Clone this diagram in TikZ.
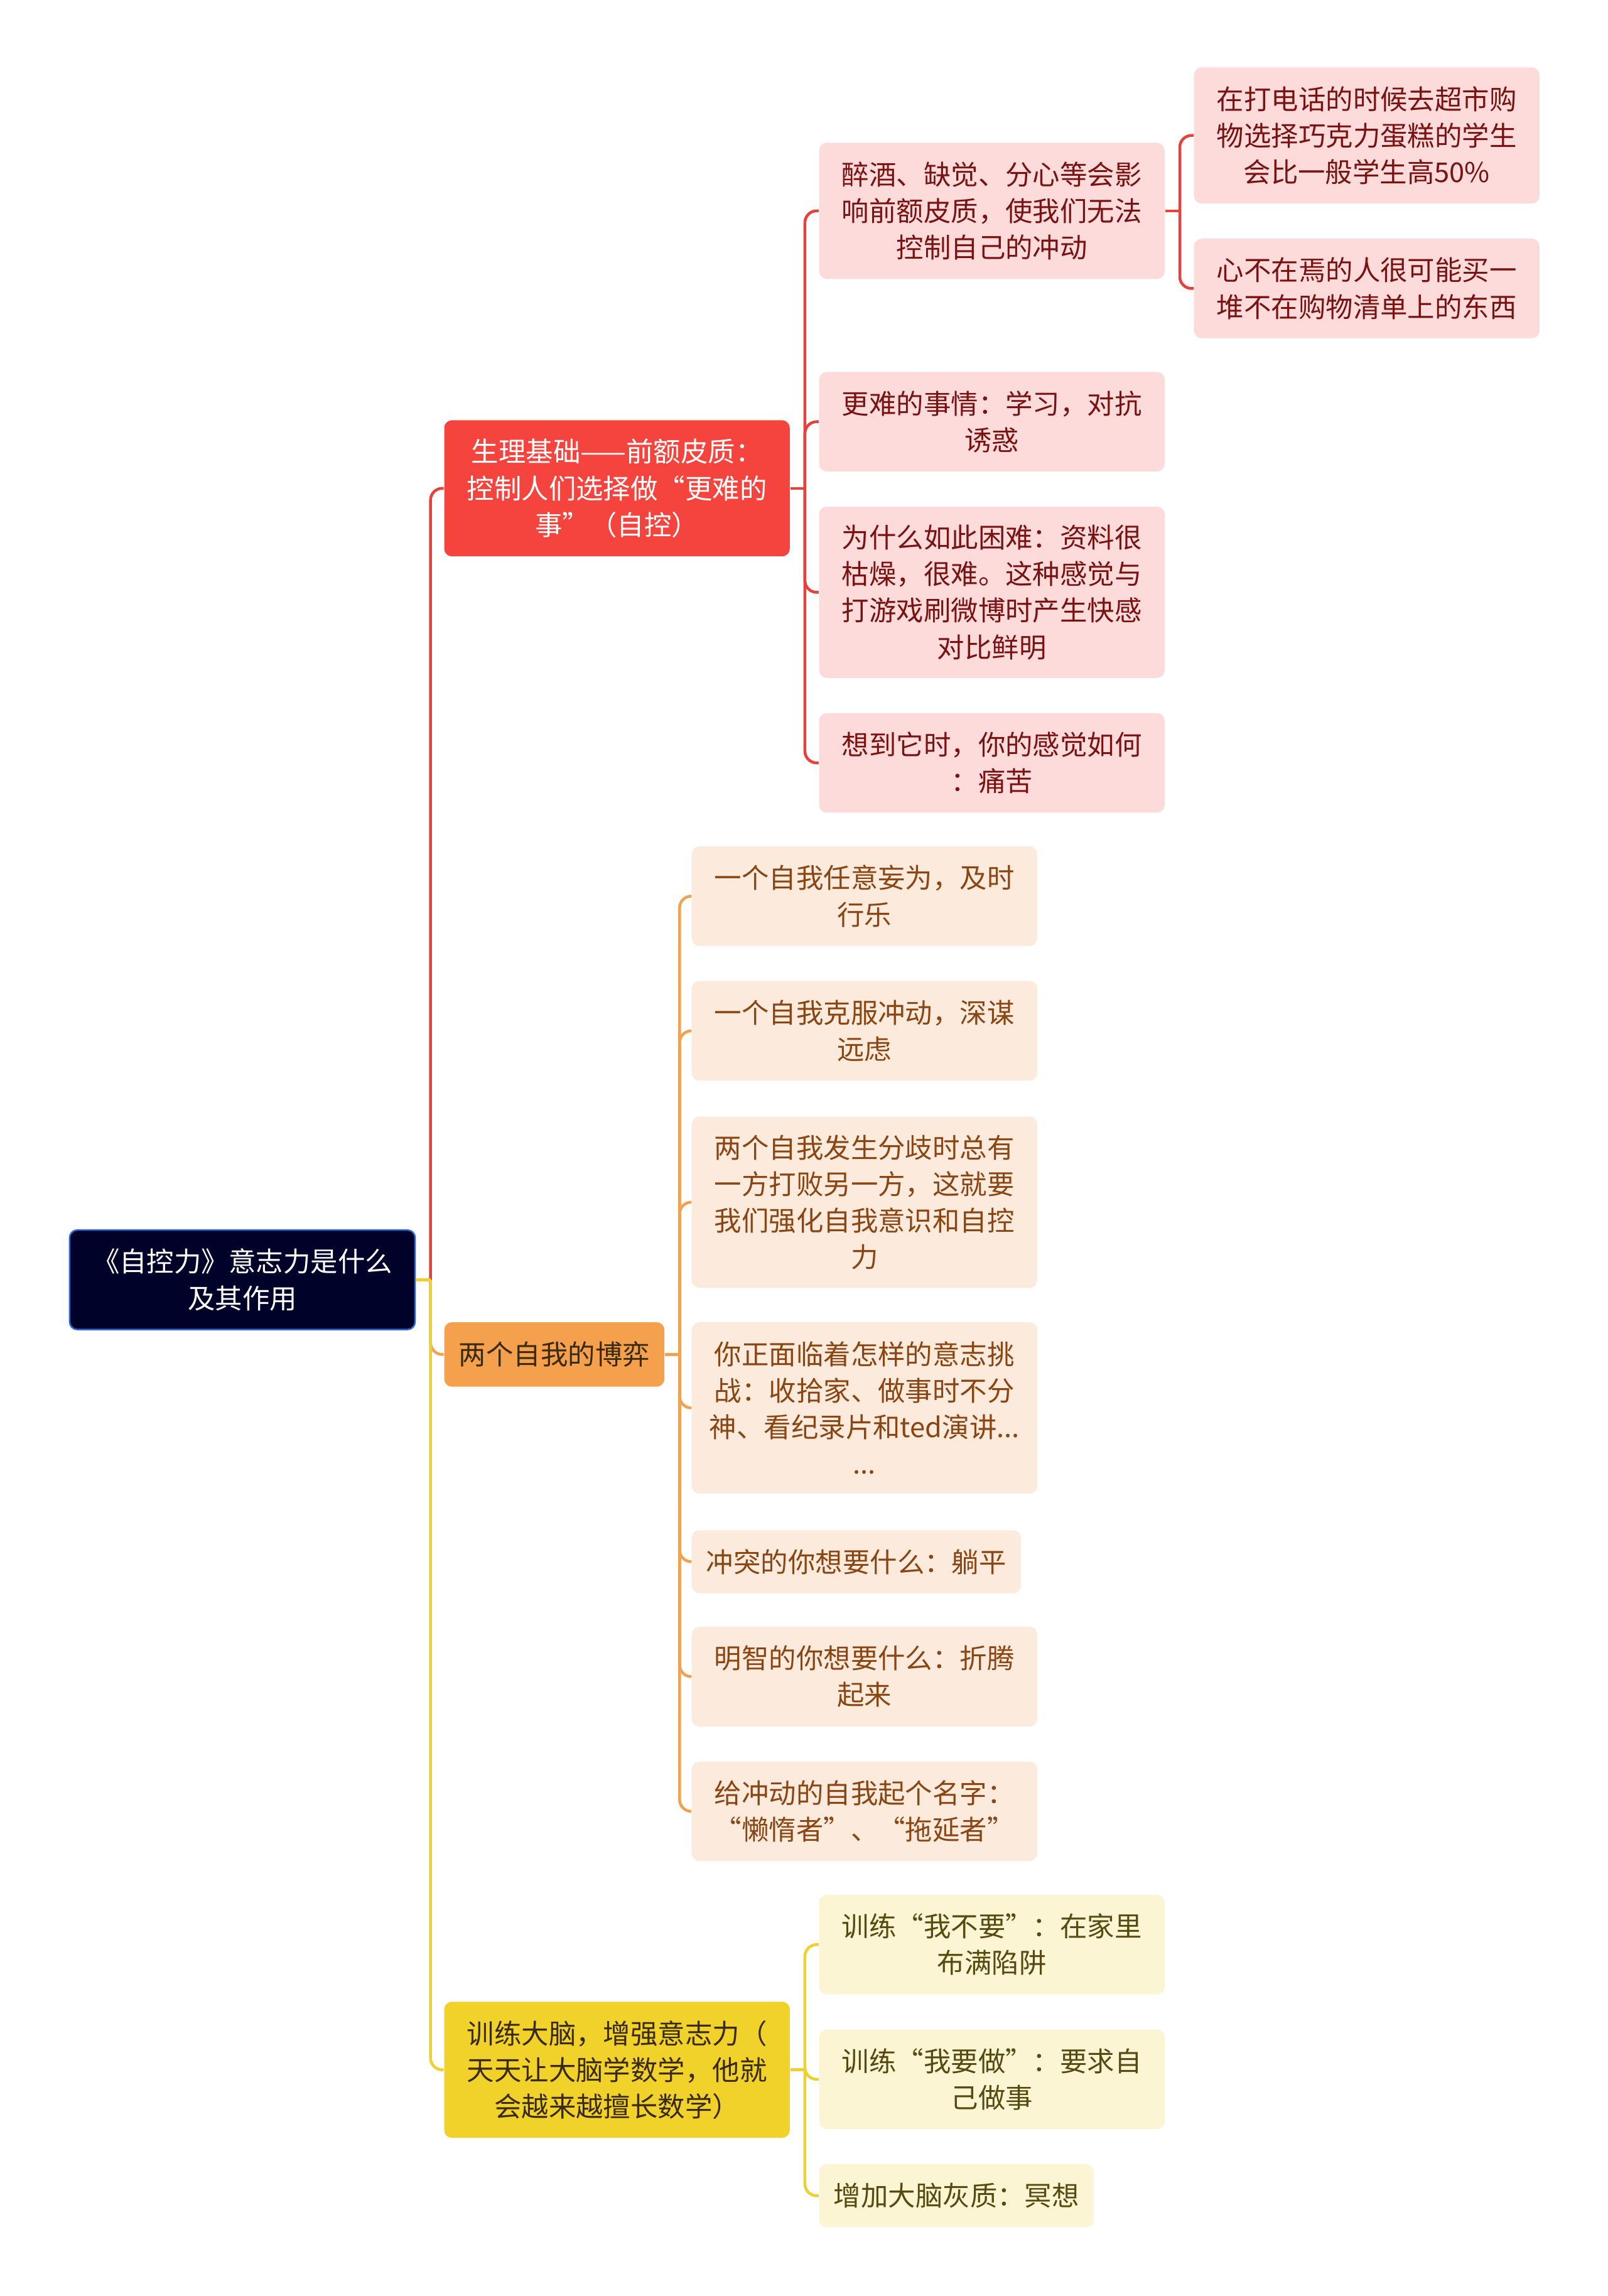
\documentclass[tikz,border=0pt]{standalone}
\usepackage{fontspec}
\newfontfamily\cjk{Noto Sans CJK SC}
\usetikzlibrary{positioning}

\definecolor{rootbg}{HTML}{000229}
\definecolor{rootline}{HTML}{2F6AD0}
\definecolor{redmain}{HTML}{F5433D}
\definecolor{orangemain}{HTML}{F5A04C}
\definecolor{yellowmain}{HTML}{F0D22A}
\definecolor{redleaf}{HTML}{FDDBDA}
\definecolor{orangeleaf}{HTML}{FCEBDC}
\definecolor{yellowleaf}{HTML}{FBF5D4}
\definecolor{redtext}{HTML}{7A1212}
\definecolor{orangetext}{HTML}{8A4512}
\definecolor{yellowtext}{HTML}{574A10}
\definecolor{darktext}{HTML}{3A2A10}
\definecolor{redlink}{HTML}{E8413B}
\definecolor{orangelink}{HTML}{F0A152}
\definecolor{yellowlink}{HTML}{EFD12E}

\begin{document}
\begin{tikzpicture}[
    x=0.02cm, y=-0.02cm,
    every node/.style={font=\cjk\fontsize{10.6}{14.2}\selectfont, align=center},
    box/.style={rectangle, rounded corners=3pt, anchor=west, minimum width=4.72cm, inner xsep=0.2cm, inner ysep=0pt},
    rootbox/.style={box, fill=rootbg, draw=rootline, line width=0.6pt, text=white},
    redbox/.style={box, fill=redmain, text=white},
    orangebox/.style={box, fill=orangemain, text=darktext},
    yellowbox/.style={box, fill=yellowmain, text=darktext},
    redleafbox/.style={box, fill=redleaf, text=redtext},
    orangeleafbox/.style={box, fill=orangeleaf, text=orangetext},
    yellowleafbox/.style={box, fill=yellowleaf, text=yellowtext},
    oneline/.style={minimum height=0.86cm},
    twolines/.style={minimum height=1.36cm},
    threelines/.style={minimum height=1.86cm},
    fourlines/.style={minimum height=2.34cm},
    link/.style={line width=1.1pt},
    elbow/.style={link, rounded corners=0.16cm}
]
\fill[white] (0,0) rectangle (1098,1568);
\useasboundingbox (0,0) rectangle (1098,1568);

% NODES
\node[rootbox, twolines] (root) at (47,874) {《自控力》意志力是什么\\及其作用};

\node[redbox, threelines] (brain) at (303,333.5) {生理基础——前额皮质：\\控制人们选择做“更难的\\事”（自控）};
\node[orangebox, minimum width=0pt, minimum height=0.88cm] (selves) at (303,925) {两个自我的博弈};
\node[yellowbox, threelines] (train) at (303,1413.5) {训练大脑，增强意志力（\\天天让大脑学数学，他就\\会越来越擅长数学）};

\node[redleafbox, threelines] (drunk) at (559,144) {醉酒、缺觉、分心等会影\\响前额皮质，使我们无法\\控制自己的冲动};
\node[redleafbox, twolines] (harder) at (559,288) {更难的事情：学习，对抗\\诱惑};
\node[redleafbox, fourlines] (why) at (559,404.5) {为什么如此困难：资料很\\枯燥，很难。这种感觉与\\打游戏刷微博时产生快感\\对比鲜明};
\node[redleafbox, twolines] (feel) at (559,521) {想到它时，你的感觉如何\\：痛苦};

\node[redleafbox, threelines] (phone) at (815,92.5) {在打电话的时候去超市购\\物选择巧克力蛋糕的学生\\会比一般学生高50\%};
\node[redleafbox, twolines] (absent) at (815,197) {心不在焉的人很可能买一\\堆不在购物清单上的东西};

\node[orangeleafbox, twolines] (wild) at (472,612) {一个自我任意妄为，及时\\行乐};
\node[orangeleafbox, twolines] (wise) at (472,704) {一个自我克服冲动，深谋\\远虑};
\node[orangeleafbox, fourlines] (split) at (472,821) {两个自我发生分歧时总有\\一方打败另一方，这就要\\我们强化自我意识和自控\\力};
\node[orangeleafbox, fourlines] (challenge) at (472,961.5) {你正面临着怎样的意志挑\\战：收拾家、做事时不分\\神、看纪录片和ted演讲...\\...};
\node[orangeleafbox, oneline, minimum width=0pt] (lazy) at (472,1066.5) {冲突的你想要什么：躺平};
\node[orangeleafbox, twolines] (toss) at (472,1145) {明智的你想要什么：折腾\\起来};
\node[orangeleafbox, twolines] (name) at (472,1237) {给冲动的自我起个名字：\\“懒惰者”、“拖延者”};

\node[yellowleafbox, twolines] (dont) at (559,1328) {训练“我不要”：在家里\\布满陷阱};
\node[yellowleafbox, twolines] (do) at (559,1420) {训练“我要做”：要求自\\己做事};
\node[yellowleafbox, oneline, minimum width=0pt] (meditate) at (559,1499.5) {增加大脑灰质：冥想};

% FORKS
\coordinate (rootfork) at ([xshift=0.2cm]root.east);
\coordinate (brainfork) at ([xshift=0.2cm]brain.east);
\coordinate (selvesfork) at ([xshift=0.2cm]selves.east);
\coordinate (trainfork) at ([xshift=0.2cm]train.east);
\coordinate (drunkfork) at ([xshift=0.2cm]drunk.east);

% LINKS
\draw[elbow, orangelink] (rootfork) |- (selves.west);
\draw[elbow, yellowlink] (rootfork) |- (train.west);
\draw[elbow, redlink] (rootfork) |- (brain.west);
\draw[link, yellowlink] (root.east) -- (rootfork);

\draw[link, redlink] (brain.east) -- (brainfork);
\foreach \leaf in {drunk, harder, why, feel}
  \draw[elbow, redlink] (brainfork) |- (\leaf.west);

\draw[link, redlink] (drunk.east) -- (drunkfork);
\foreach \leaf in {phone, absent}
  \draw[elbow, redlink] (drunkfork) |- (\leaf.west);

\draw[link, orangelink] (selves.east) -- (selvesfork);
\foreach \leaf in {wild, wise, split, challenge, lazy, toss, name}
  \draw[elbow, orangelink] (selvesfork) |- (\leaf.west);

\draw[link, yellowlink] (train.east) -- (trainfork);
\foreach \leaf in {dont, do, meditate}
  \draw[elbow, yellowlink] (trainfork) |- (\leaf.west);

\end{tikzpicture}
\end{document}
